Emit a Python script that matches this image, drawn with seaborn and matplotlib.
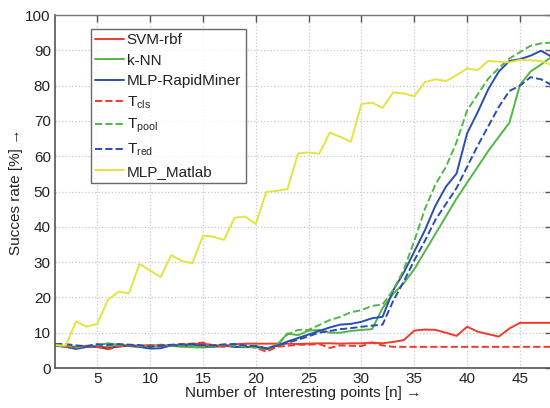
import numpy as np
import pandas as pd
import matplotlib
matplotlib.use("Agg")
import matplotlib.pyplot as plt
import seaborn as sns

# Number of interesting points on the x axis
points = list(range(1, 49))

svm_rbf = [6.5, 6.2, 6.0, 6.3, 6.2, 5.8, 6.3, 6.5, 6.3, 6.5, 6.3, 6.5, 6.6, 6.8, 6.9, 6.5,
           6.3, 6.7, 6.9, 6.9, 6.9, 6.9, 6.9, 6.8, 6.9, 7.0, 7.0, 6.9, 7.0, 7.0, 7.2, 7.0,
           7.4, 7.9, 10.6, 10.9, 10.8, 10.0, 9.1, 11.7, 10.3, 9.6, 8.9, 11.2, 12.8, 12.8, 12.8, 12.8]
knn = [6.3, 6.0, 5.6, 6.0, 6.4, 7.0, 6.6, 6.2, 6.0, 6.2, 6.4, 6.3, 6.0, 5.9, 5.8, 6.1,
       6.3, 6.0, 6.0, 6.3, 5.6, 6.5, 9.8, 9.3, 10.6, 10.8, 10.0, 10.0, 10.5, 10.8, 11.0, 17.0,
       21.0, 24.0, 28.0, 33.0, 38.0, 43.0, 48.0, 52.5, 57.0, 61.5, 65.5, 69.5, 80.2, 84.0, 86.0, 88.2]
mlp_rapidminer = [6.5, 6.0, 5.4, 6.0, 6.0, 5.4, 6.2, 6.3, 6.0, 5.5, 5.6, 6.4, 6.3, 6.6, 6.2, 6.0,
                  6.4, 6.0, 5.9, 6.0, 5.3, 6.3, 7.5, 8.5, 9.5, 10.5, 11.5, 12.3, 12.5, 13.1, 14.1, 14.5,
                  22.0, 27.0, 33.0, 39.0, 46.0, 51.4, 55.1, 66.5, 72.5, 79.0, 84.0, 87.0, 87.5, 88.5, 89.9, 88.2]
t_cls = [6.5, 6.0, 5.8, 6.2, 6.0, 5.3, 6.0, 6.4, 6.2, 6.3, 6.6, 6.4, 6.8, 6.9, 7.2, 6.2,
         6.0, 6.5, 6.2, 5.8, 4.6, 6.0, 6.3, 6.6, 6.6, 6.8, 5.7, 6.4, 6.3, 6.2, 7.2, 6.4,
         6.0, 6.0, 6.0, 6.0, 6.0, 6.0, 6.0, 6.0, 6.0, 6.0, 6.0, 6.0, 6.0, 6.0, 6.0, 6.0]
t_pool = [6.6, 6.5, 5.8, 6.2, 6.8, 6.2, 6.5, 6.6, 6.3, 6.0, 6.2, 6.5, 6.3, 6.1, 5.9, 6.2,
          6.5, 6.4, 6.0, 5.8, 5.4, 6.5, 9.5, 10.8, 10.8, 12.2, 13.6, 14.5, 15.8, 16.4, 17.6, 18.0,
          22.1, 27.8, 36.0, 45.0, 52.0, 57.0, 64.0, 73.0, 77.5, 82.0, 85.0, 87.7, 89.5, 91.3, 92.0, 92.2]
t_red = [6.8, 6.8, 6.4, 6.2, 6.7, 6.6, 6.8, 6.6, 6.5, 6.0, 6.3, 6.6, 6.7, 6.8, 6.5, 6.4,
         6.7, 6.8, 6.4, 6.2, 5.6, 6.3, 7.2, 8.0, 9.0, 10.0, 10.5, 11.0, 11.3, 11.7, 12.0, 12.3,
         19.0, 24.5, 30.5, 36.0, 42.0, 46.5, 51.0, 57.0, 63.0, 68.5, 74.0, 78.5, 80.0, 82.4, 81.8, 80.2]
mlp_matlab = [6.5, 6.3, 13.2, 11.7, 12.5, 19.3, 21.6, 21.2, 29.5, 27.6, 25.8, 32.0, 30.3, 29.7, 37.5, 37.2,
              36.3, 42.6, 42.9, 40.8, 49.9, 50.2, 50.7, 60.8, 61.1, 60.7, 66.7, 65.5, 64.1, 74.8, 75.2, 73.7,
              78.1, 77.8, 77.0, 81.0, 81.8, 81.3, 83.0, 84.9, 84.4, 87.0, 86.8, 86.6, 87.3, 87.2, 87.0, 85.8]

series_names = ["SVM-rbf", "k-NN", "MLP-RapidMiner",
                r"T$_{\mathrm{cls}}$", r"T$_{\mathrm{pool}}$", r"T$_{\mathrm{red}}$", "MLP_Matlab"]
series_values = [svm_rbf, knn, mlp_rapidminer, t_cls, t_pool, t_red, mlp_matlab]
series_colors = ["#f23a2c", "#52b646", "#2a4db3", "#f23a2c", "#52b646", "#2a4db3", "#e5e33f"]
series_dashes = ["-", "-", "-", "--", "--", "--", "-"]

xticks = [5, 10, 15, 20, 25, 30, 35, 40, 45]
yticks = [0, 10, 20, 30, 40, 50, 60, 70, 80, 90, 100]

sns.set_style("white")
plt.rcParams["font.family"] = ["Liberation Sans", "DejaVu Sans"]
plt.rcParams["mathtext.fontset"] = "custom"
plt.rcParams["mathtext.rm"] = "Liberation Sans"
plt.rcParams["mathtext.it"] = "Liberation Sans"

df = pd.DataFrame({
    "n": np.tile(points, len(series_names)),
    "rate": np.concatenate(series_values),
    "method": np.repeat(series_names, len(points)),
})

fig = plt.figure(figsize=(5.5, 4.08), dpi=100)
ax = fig.add_axes([0.1, 0.098, 0.903, 0.865])

for name, color, ls in zip(series_names, series_colors, series_dashes):
    sub = df[df["method"] == name]
    sns.lineplot(data=sub, x="n", y="rate", ax=ax, color=color, linestyle=ls,
                 linewidth=1.4, label=name, estimator=None)

ax.set_xlim(1, 48)
ax.set_ylim(0, 100)
ax.set_xticks(xticks)
ax.set_yticks(yticks)
ax.grid(True, color="#c8c8c8", linestyle=":", linewidth=0.9)
ax.tick_params(direction="in", length=5, width=1, color="#555555",
               top=True, right=True, labelsize=11, labelcolor="#222222", pad=3)
for side in ["left", "bottom"]:
    ax.spines[side].set_color("#555555")
    ax.spines[side].set_linewidth(1.2)
for side in ["top", "right"]:
    ax.spines[side].set_color("#777777")
    ax.spines[side].set_linewidth(1.0)

ax.set_xlabel("Number of  Interesting points [n] \u2192", fontsize=11, color="#222222", labelpad=0)
ax.set_ylabel("Succes rate [%] \u2192", fontsize=11, color="#222222", labelpad=2)

leg = ax.legend(loc="upper left", bbox_to_anchor=(0.072, 0.962), fontsize=11,
                frameon=True, fancybox=False, handlelength=1.9, handletextpad=0.15,
                borderpad=0.3, labelspacing=0.42, borderaxespad=0)
leg.get_frame().set_edgecolor("#444444")
leg.get_frame().set_linewidth(1.0)
for t in leg.get_texts():
    t.set_color("#222222")

fig.savefig("out.png", dpi=100)
